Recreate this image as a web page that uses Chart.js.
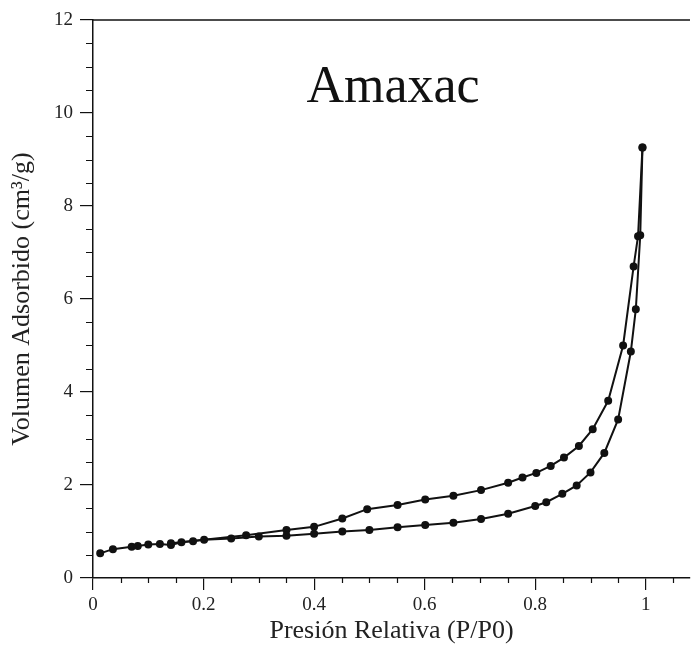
<!DOCTYPE html>
<html>
<head>
<meta charset="utf-8">
<script src="https://cdn.jsdelivr.net/npm/chart.js@4/dist/chart.umd.min.js"></script>
<style>
  html, body { margin: 0; padding: 0; background: #fff; }
  #wrap { width: 691px; height: 656px; position: relative; }
</style>
</head>
<body>
<div id="wrap"><canvas id="chart"></canvas></div>
<script>
// isotherm: adsorption (lower branch) and desorption (upper branch)
const adsX = [0.013, 0.036, 0.07, 0.081, 0.10, 0.121, 0.141, 0.16, 0.181, 0.201, 0.25, 0.30, 0.35, 0.40, 0.451, 0.50,
  0.551, 0.601, 0.652, 0.702, 0.751, 0.80, 0.82, 0.849, 0.875, 0.90, 0.925, 0.95, 0.973, 0.982, 0.99, 0.994];
const adsY = [0.53, 0.62, 0.67, 0.69, 0.72, 0.73, 0.71, 0.77, 0.79, 0.82, 0.85, 0.89, 0.91, 0.95, 1.00, 1.03,
  1.09, 1.14, 1.19, 1.27, 1.38, 1.55, 1.63, 1.81, 1.99, 2.27, 2.69, 3.41, 4.87, 5.78, 7.37, 9.26];

const desX = [0.994, 0.986, 0.978, 0.959, 0.932, 0.904, 0.879, 0.852, 0.828, 0.802, 0.777, 0.751, 0.702, 0.652,
  0.601, 0.551, 0.496, 0.451, 0.40, 0.35, 0.277, 0.141];
const desY = [9.26, 7.35, 6.70, 5.00, 3.81, 3.20, 2.84, 2.59, 2.41, 2.26, 2.16, 2.05, 1.89, 1.77,
  1.69, 1.57, 1.48, 1.28, 1.10, 1.03, 0.92, 0.75];

const xTicks = [0, 0.2, 0.4, 0.6, 0.8, 1];
const yTicks = [0, 2, 4, 6, 8, 10, 12];

const titleText = "Amaxac";
const xTitle = "Presión Relativa (P/P0)";
const yTitle = "Volumen Adsorbido (cm³/g)";

const SERIF = "'Liberation Serif', 'DejaVu Serif', serif";
const INK = "#111";

const pts = (xs, ys) => xs.map((x, i) => ({ x, y: ys[i] }));

function series(label, data) {
  return {
    label, data,
    borderColor: INK, backgroundColor: INK,
    borderWidth: 2, pointRadius: 3, pointHoverRadius: 3,
    tension: 0, fill: false
  };
}

// minor ticks, top frame line and the sample name
const decor = {
  id: "decor",
  afterDraw(chart) {
    const { ctx, chartArea: a, scales: { x, y } } = chart;
    ctx.save();
    ctx.strokeStyle = INK;
    ctx.lineWidth = 1.2;
    ctx.beginPath();
    for (let i = 1; i <= 21; i++) {
      if (i % 4 === 0) continue;
      const px = Math.round(x.getPixelForValue(i * 0.05)) + 0.5;
      ctx.moveTo(px, a.bottom); ctx.lineTo(px, a.bottom + 5);
    }
    for (let i = 1; i < 24; i++) {
      if (i % 4 === 0) continue;
      const py = Math.round(y.getPixelForValue(i * 0.5)) + 0.5;
      ctx.moveTo(a.left, py); ctx.lineTo(a.left - 7, py);
    }
    ctx.stroke();

    ctx.lineWidth = 1.5;
    ctx.beginPath();
    ctx.moveTo(a.left, a.top); ctx.lineTo(a.right, a.top);
    ctx.stroke();

    ctx.fillStyle = INK;
    ctx.font = `52px ${SERIF}`;
    ctx.textAlign = "center";
    ctx.textBaseline = "alphabetic";
    ctx.fillText(titleText, 393, 102);
    ctx.restore();
  }
};

new Chart(document.getElementById("chart"), {
  type: "line",
  data: {
    datasets: [
      series("Adsorción", pts(adsX, adsY)),
      series("Desorción", pts(desX, desY))
    ]
  },
  options: {
    responsive: true,
    maintainAspectRatio: false,
    animation: false,
    layout: { autoPadding: false, padding: { top: 20, right: 1, left: 0, bottom: 0 } },
    plugins: { legend: { display: false }, tooltip: { enabled: false } },
    scales: {
      x: {
        type: "linear", min: 0, max: 1.08,
        afterBuildTicks: s => { s.ticks = xTicks.map(v => ({ value: v })); },
        afterFit: s => { s.height = 78; s.paddingLeft = 0; s.paddingRight = 0; },
        border: { color: INK, width: 1.5 },
        grid: { drawOnChartArea: false, tickLength: 12, color: INK, lineWidth: 1.2 },
        ticks: { color: "#222", padding: 4, maxRotation: 0, callback: v => String(v),
          font: { family: SERIF, size: 19 } },
        title: { display: true, text: xTitle, color: "#222", padding: { top: 0, bottom: 9 },
          font: { family: SERIF, size: 26 } }
      },
      y: {
        min: 0, max: 12,
        afterBuildTicks: s => { s.ticks = yTicks.map(v => ({ value: v })); },
        afterFit: s => { s.width = 93; s.paddingTop = 0; s.paddingBottom = 0; },
        border: { color: INK, width: 1.5 },
        grid: { drawOnChartArea: false, tickLength: 13, color: INK, lineWidth: 1.2 },
        ticks: { color: "#222", padding: 7, callback: v => String(v), font: { family: SERIF, size: 19 } },
        title: { display: true, text: yTitle, color: "#222", padding: { top: 7, bottom: 0 },
          font: { family: SERIF, size: 26 } }
      }
    }
  },
  plugins: [decor]
});
</script>
</body>
</html>
